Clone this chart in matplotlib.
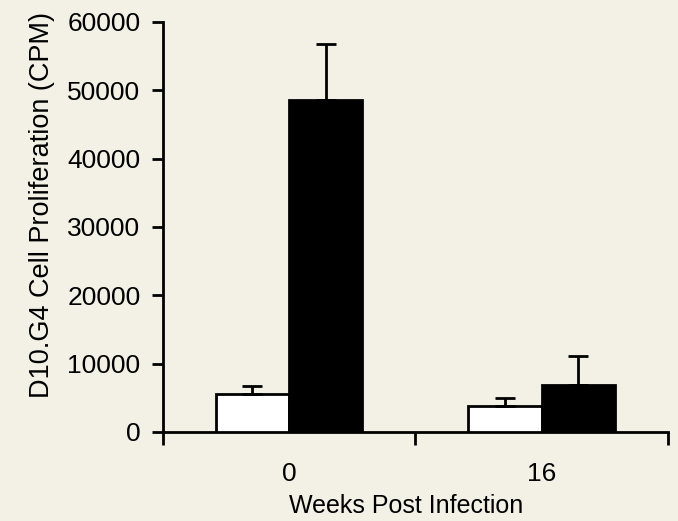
import numpy as np
import matplotlib.pyplot as plt

weeks = ['0', '16']
control_mean = [5600, 3800]
control_err = [1100, 1200]
infected_mean = [48600, 6900]
infected_err = [8100, 4200]

plt.rcParams['font.family'] = ['Liberation Sans', 'DejaVu Sans']

bg = '#f3f1e6'
fig = plt.figure(figsize=(6.78, 5.21), dpi=100, facecolor=bg)
ax = fig.add_axes([0.240, 0.171, 0.745, 0.787], facecolor=bg)

x = np.arange(len(weeks)) + 0.5
width = 0.29
err_kw = dict(ecolor='black', elinewidth=2, capsize=7.5, capthick=2)

ax.bar(x - width / 2, control_mean, width, color='white', edgecolor='black',
       linewidth=2, yerr=[np.zeros(len(weeks)), control_err],
       error_kw=err_kw, zorder=3)
ax.bar(x + width / 2, infected_mean, width, color='black', edgecolor='black',
       linewidth=2, yerr=[np.zeros(len(weeks)), infected_err],
       error_kw=err_kw, zorder=3)

ax.set_xlim(0, 2)
ax.set_ylim(0, 60000)
ax.set_yticks(np.arange(0, 60001, 10000))
ax.set_xticks([0, 1, 2])
ax.set_xticklabels([])
ax.set_xticks(x, minor=True)
ax.set_xticklabels(weeks, minor=True)
ax.tick_params(axis='x', which='minor', length=0, pad=22, labelsize=19)
ax.tick_params(axis='x', which='major', length=9, width=2)
ax.tick_params(axis='y', length=8, width=2, labelsize=19, pad=8)

for side in ['top', 'right']:
    ax.spines[side].set_visible(False)
for side in ['left', 'bottom']:
    ax.spines[side].set_linewidth(2)

# axis titles placed in figure coordinates
fig.text(0.062, 0.607, 'D10.G4 Cell Proliferation (CPM)', fontsize=19.5,
         rotation=90, ha='center', va='center')
fig.text(0.599, 0.028, 'Weeks Post Infection', fontsize=18,
         ha='center', va='center')

fig.savefig('out.png', dpi=100, facecolor=bg)
